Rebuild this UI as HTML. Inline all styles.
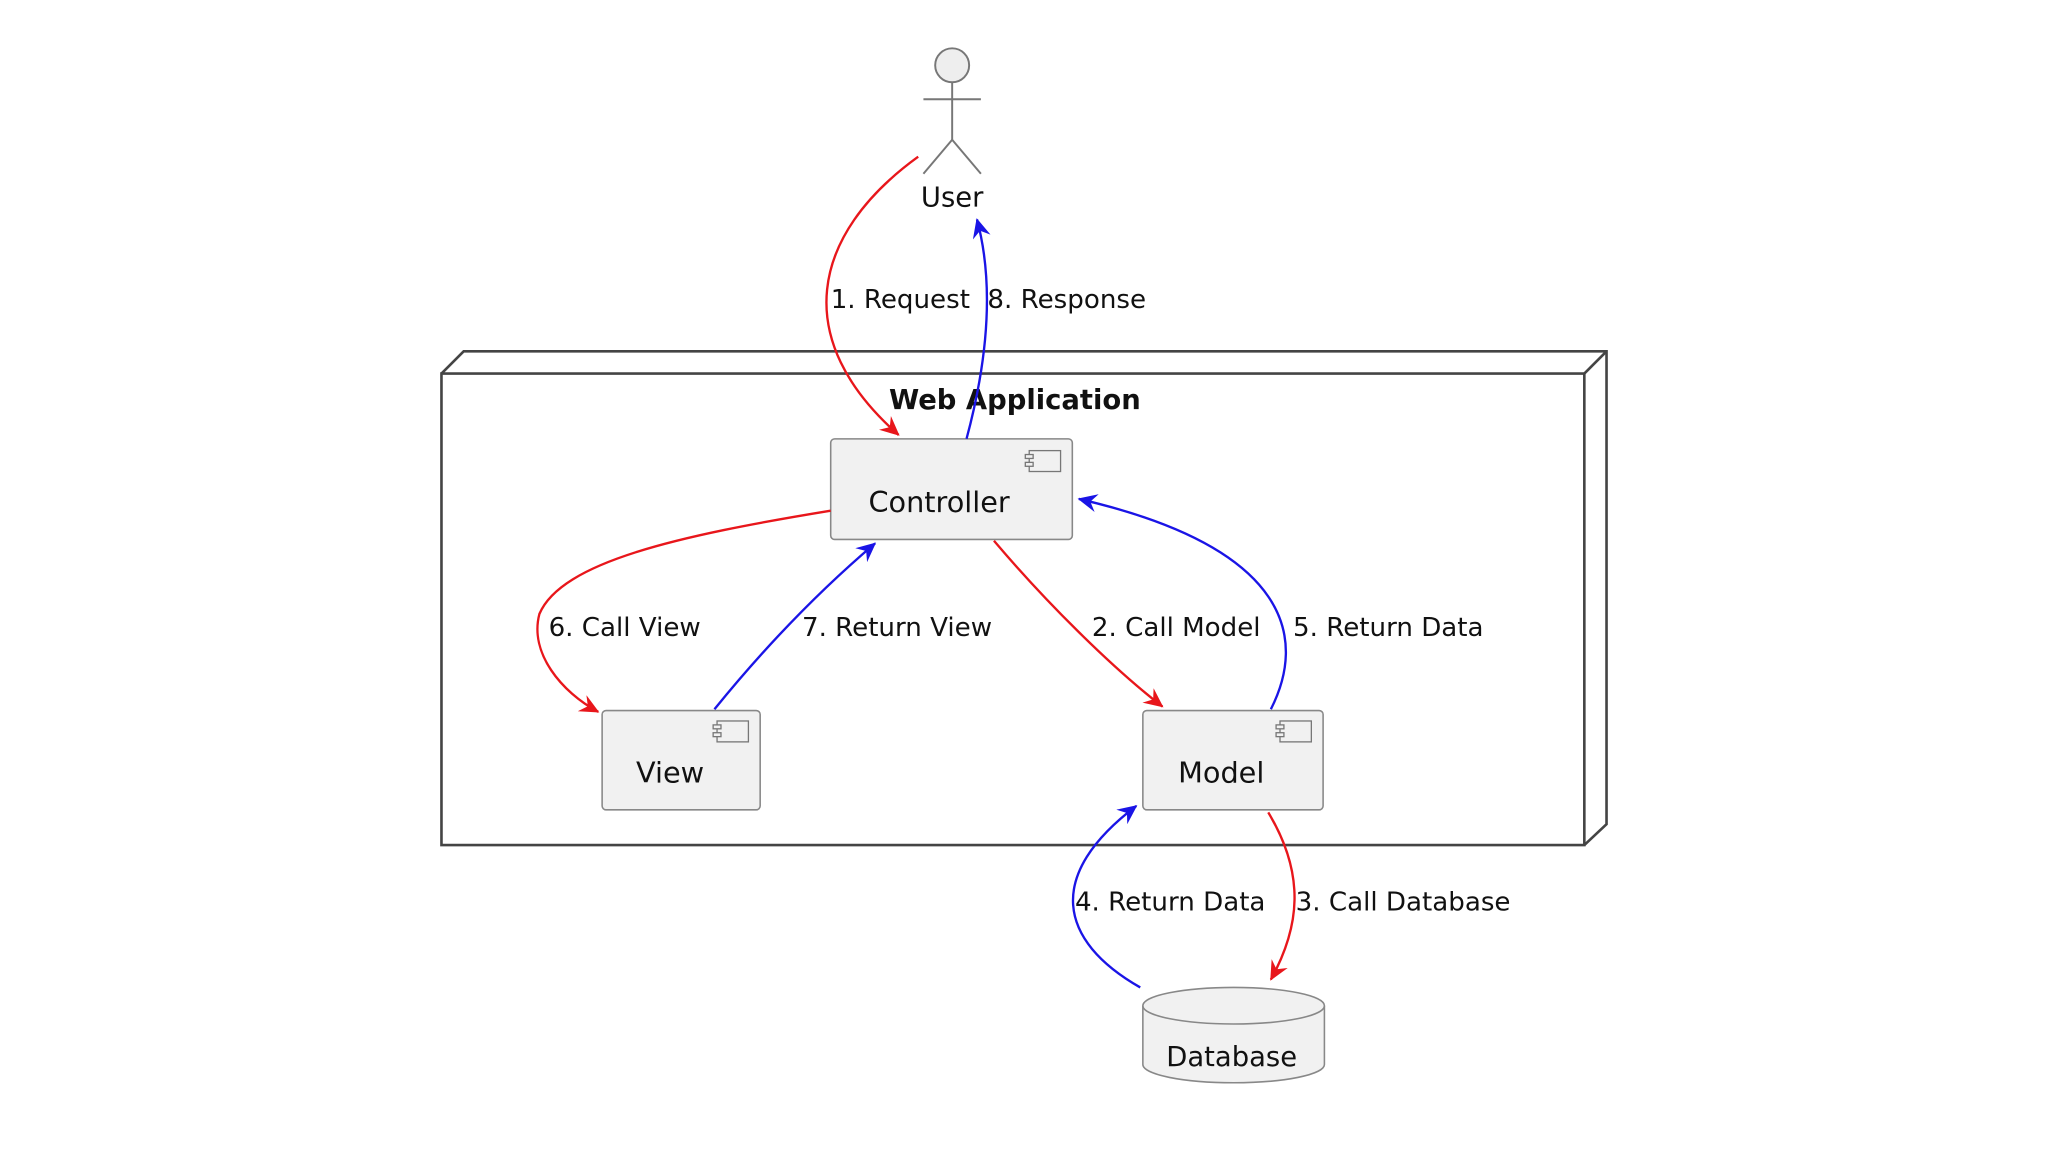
<!DOCTYPE html>
<html><head><meta charset="utf-8"><style>
html,body{margin:0;padding:0;background:#fff;}
svg{display:block;}
text{font-family:"DejaVu Sans","Liberation Sans",sans-serif;fill:#111;}
</style></head><body>
<svg width="2048" height="1152" viewBox="0 0 1568 882" xmlns="http://www.w3.org/2000/svg">
<defs>
<marker id="ar" markerWidth="16" markerHeight="14" refX="14" refY="7" orient="auto" markerUnits="userSpaceOnUse">
<path d="M0,0 L15,7 L0,14 L5,7 Z" fill="#e8161b"/></marker>
<marker id="ab" markerWidth="16" markerHeight="14" refX="14" refY="7" orient="auto" markerUnits="userSpaceOnUse">
<path d="M0,0 L15,7 L0,14 L5,7 Z" fill="#1a14e6"/></marker>
</defs>
<rect width="1568" height="882" fill="#fff"/>
<g stroke="#777" stroke-width="1.5" fill="none">
<circle cx="729" cy="50" r="13" fill="#eee"/>
<line x1="729" y1="63" x2="729" y2="107"/>
<line x1="707" y1="76" x2="751" y2="76"/>
<line x1="729" y1="107" x2="707" y2="133"/>
<line x1="729" y1="107" x2="751" y2="133"/>
</g>
<text x="729" y="158" font-size="21" text-anchor="middle">User</text>
<g stroke="#444" stroke-width="2" fill="none">
<rect x="338" y="286" width="875" height="361" fill="#fff"/>
<polyline points="338,286 355,269 1230,269 1230,631 1213,647"/>
<line x1="1213" y1="286" x2="1230" y2="269"/>
</g>
<text x="777" y="313" font-size="21" font-weight="bold" text-anchor="middle">Web Application</text>
<g stroke="#888" stroke-width="1.2" fill="#f1f1f1">
<rect x="636" y="336" width="185" height="77" rx="3"/>
<rect x="461" y="544" width="121" height="76" rx="3"/>
<rect x="875" y="544" width="138" height="76" rx="3"/>
</g>
<g stroke="#777" stroke-width="1" fill="#f1f1f1">
<rect x="788" y="345" width="24" height="16"/><rect x="785" y="348" width="6" height="3"/><rect x="785" y="354" width="6" height="3"/>
<rect x="549" y="552" width="24" height="16"/><rect x="546" y="555" width="6" height="3"/><rect x="546" y="561" width="6" height="3"/>
<rect x="980" y="552" width="24" height="16"/><rect x="977" y="555" width="6" height="3"/><rect x="977" y="561" width="6" height="3"/>
</g>
<text x="719" y="392" font-size="22" text-anchor="middle">Controller</text>
<text x="513" y="599" font-size="22" text-anchor="middle">View</text>
<text x="935" y="599" font-size="22" text-anchor="middle">Model</text>
<g stroke="#888" stroke-width="1.2" fill="#f1f1f1">
<path d="M875,770 L875,815 A69.5,14 0 0 0 1014,815 L1014,770"/>
<ellipse cx="944.5" cy="770" rx="69.5" ry="14"/>
</g>
<text x="943" y="816" font-size="21" text-anchor="middle">Database</text>
<g fill="none" stroke-width="1.8">
<path d="M703,120 C620,180 605,260 688,333" stroke="#e8161b" marker-end="url(#ar)"/>
<path d="M740,336 C755,280 762,220 748,168" stroke="#1a14e6" marker-end="url(#ab)"/>
<path d="M636,391 C520,410 430,430 413,470 C405,500 430,530 458,545" stroke="#e8161b" marker-end="url(#ar)"/>
<path d="M547,543 C590,490 630,450 670,416" stroke="#1a14e6" marker-end="url(#ab)"/>
<path d="M761,414 C800,460 850,510 890,541" stroke="#e8161b" marker-end="url(#ar)"/>
<path d="M973,543 C1000,490 990,420 826,382" stroke="#1a14e6" marker-end="url(#ab)"/>
<path d="M873,756 C810,720 800,670 870,617" stroke="#1a14e6" marker-end="url(#ab)"/>
<path d="M971,622 C1000,670 995,710 973,750" stroke="#e8161b" marker-end="url(#ar)"/>
</g>
<g font-size="20">
<text x="636" y="236">1. Request</text>
<text x="756" y="236">8. Response</text>
<text x="420" y="487">6. Call View</text>
<text x="614" y="487">7. Return View</text>
<text x="836" y="487">2. Call Model</text>
<text x="990" y="487">5. Return Data</text>
<text x="823" y="697">4. Return Data</text>
<text x="992" y="697">3. Call Database</text>
</g>
</svg>
</body></html>
